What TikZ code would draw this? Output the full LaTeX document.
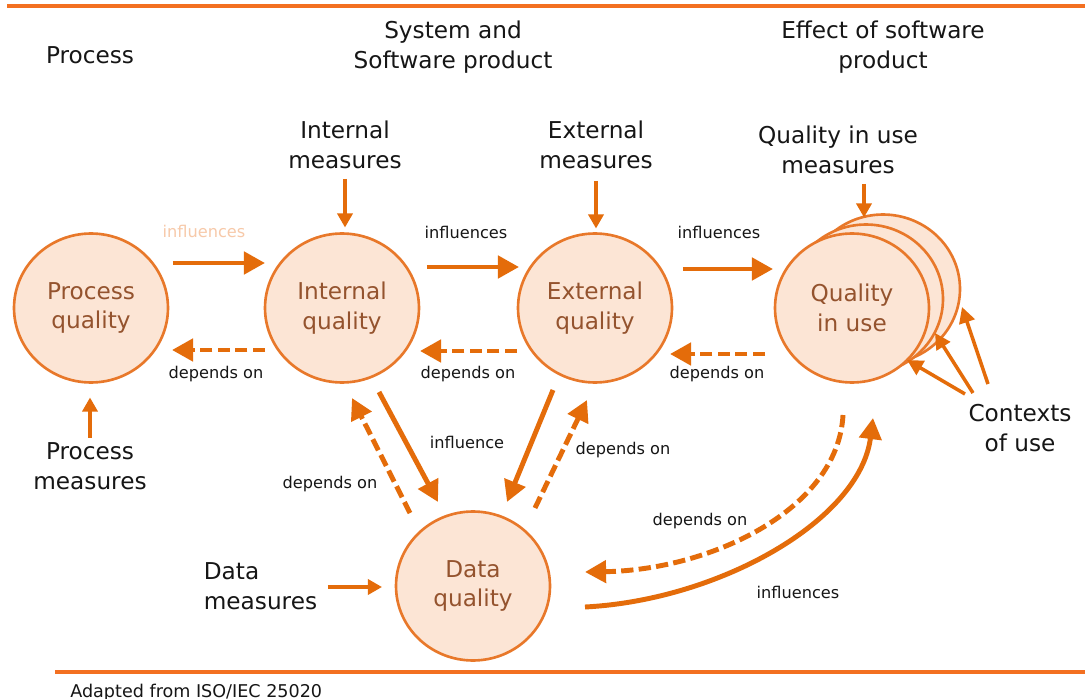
\documentclass[tikz,border=0pt]{standalone}
\usepackage{fontspec}
\setmainfont{DejaVu Sans}
\usepackage{tikz}
\usetikzlibrary{
    arrows.meta,
    calc,
    shapes.geometric,
    positioning
}
\definecolor{rulecol}{HTML}{F37021}
\definecolor{arrcol}{HTML}{E46C0A}
\definecolor{ringcol}{HTML}{E8782A}
\definecolor{ringfill}{HTML}{FCE5D5}
\definecolor{ringtext}{HTML}{94532E}
\definecolor{paletext}{HTML}{F7C9A9}
\definecolor{inktext}{HTML}{161616}
\newcommand{\bigfont}{\fontsize{13.2}{17}\selectfont}
\newcommand{\tagfont}{\fontsize{9.2}{11}\selectfont}

\begin{document}
\begin{tikzpicture}[x=0.02cm, y=-0.02cm,
    quality/.style={ellipse, draw=ringcol, line width=1.5pt, fill=ringfill, text=ringtext,
        minimum width=3.08cm, minimum height=2.98cm, inner sep=0pt, outer sep=0pt,
        font=\bigfont, align=center},
    head/.style={font=\bigfont, align=center, text=inktext, inner sep=2pt},
    tag/.style={font=\tagfont, text=inktext},
    infl/.style={draw=arrcol, line width=2.8pt, -{Triangle[length=12pt, width=12.5pt]}},
    dep/.style={infl, dash pattern=on 7pt off 3pt},
    meas/.style={draw=arrcol, line width=2pt, -{Triangle[length=8pt, width=8.5pt]}},
    ctxarrow/.style={draw=arrcol, line width=2pt, -{Triangle[length=9pt, width=9pt]}}]
                        \fill[white] (0,0) rectangle (1085,699);
                        \useasboundingbox (0,0) rectangle (1085,699);
                        \draw[rulecol, line width=2.4pt] (7,6) -- (1085,6);
                        \draw[rulecol, line width=2.4pt] (55,672) -- (1085,672);
                        \node[head] (hproc) at (90,55) {Process};
                        \node[head] (hsys) at (453,47) {System and\\Software product};
                        \node[head] (heff) at (883,47) {Effect of software\\product};
                        \node[head] (mint) at (345,145) {Internal\\measures};
                        \node[head] (mext) at (596,145) {External\\measures};
                        \node[head] (mqiu) at (838,150) {Quality in use\\measures};
                        \node[head] (mproc) at (90,466) {Process\\measures};
                        \node[head, align=left, anchor=west] (mdata) at (200,586) {Data\\measures};
                        \node[head] (ctx) at (1020,428) {Contexts\\of use};
                        \node[quality] (qu3) at (883,289) {};
                        \node[quality] (qu2) at (866,299) {};
                        \node[quality] (pq) at (91,308) {Process\\quality};
                        \node[quality] (iq) at (342,308) {Internal\\quality};
                        \node[quality] (eq) at (595,308) {External\\quality};
                        \node[quality] (qu) at (852,308) {Quality\\in use};
                        \node[quality] (dq) at (473,586) {Data\\quality};
                        \node[tag, text=paletext] (tpi) at (204,231) {influences};
                        \node[tag] (tie) at (466,232) {influences};
                        \node[tag] (teq) at (719,232) {influences};
                        \node[tag] (dip) at (216,374) {depends on};
                        \node[tag] (dei) at (468,374) {depends on};
                        \node[tag] (dqe) at (717,374) {depends on};
                        \node[tag] (tid) at (467,442) {influence};
                        \node[tag] (ddi) at (330,484) {depends on};
                        \node[tag] (dde) at (623,450) {depends on};
                        \node[tag] (dqd) at (700,521) {depends on};
                        \node[tag] (tdq) at (798,592) {influences};
                        \draw[infl] ($(pq.east)+(5,-45)$) -- ($(iq.west)+(0,-45)$);
                        \draw[infl] ($(iq.east)+(8,-41)$) -- ($(eq.west)+(1,-41)$);
                        \draw[infl] ($(eq.east)+(11,-39)$) -- ($(qu.west)+(-2,-39)$);
                        \draw[dep] ($(iq.west)+(0,42)$) -- ($(pq.east)+(4,42)$);
                        \draw[dep] ($(eq.west)+(-1,43)$) -- ($(iq.east)+(1,43)$);
                        \draw[dep] ($(qu.west)+(-10,46)$) -- ($(eq.east)+(-2,46)$);
                        \draw[infl] ($(iq)+(37,84)$) -- ($(dq)+(-35,-84)$);
                        \draw[dep] ($(dq)+(-63,-73)$) -- ($(iq)+(10,90)$);
                        \draw[infl] ($(eq)+(-42,82)$) -- ($(dq)+(34,-84)$);
                        \draw[dep] ($(dq)+(62,-78)$) -- ($(eq)+(-8,92)$);
                        \draw[dep] ($(qu)+(-9,107)$) .. controls ($(qu)+(-14,202)$) and ($(dq)+(237,-16)$) .. ($(dq)+(112,-14)$);
                        \draw[infl] ($(dq)+(112,21)$) .. controls ($(dq)+(247,14)$) and ($(qu)+(8,212)$) .. ($(qu)+(21,110)$);
                        \draw[meas] ($(mint.south)+(0,6)$) -- ($(mint.south |- iq.north)+(0,-6)$);
                        \draw[meas] ($(mext.south)+(0,8)$) -- ($(mext.south |- eq.north)+(0,-5)$);
                        \draw[meas] ($(mqiu.south)+(26,6)$) -- ($(qu3.north)+(-19,3)$);
                        \draw[meas] ($(mproc.north)+(0,-1)$) -- ($(mproc.north |- pq.south)+(0,15)$);
                        \draw[meas] ($(mdata.east)+(7,1)$) -- ($(dq.west)+(-14,1)$);
                        \draw[ctxarrow] ($(ctx)+(-55,-34)$) -- ($(qu)+(55,52)$);
                        \draw[ctxarrow] ($(ctx)+(-47,-35)$) -- ($(qu2)+(69,34)$);
                        \draw[ctxarrow] ($(ctx)+(-32,-44)$) -- ($(qu3)+(79,18)$);
                        \node[anchor=base west, font=\fontsize{10}{12}\selectfont, text=inktext, inner sep=0pt] (src) at (70,697) {Adapted from ISO/IEC 25020};
                    \end{tikzpicture}
\end{document}
